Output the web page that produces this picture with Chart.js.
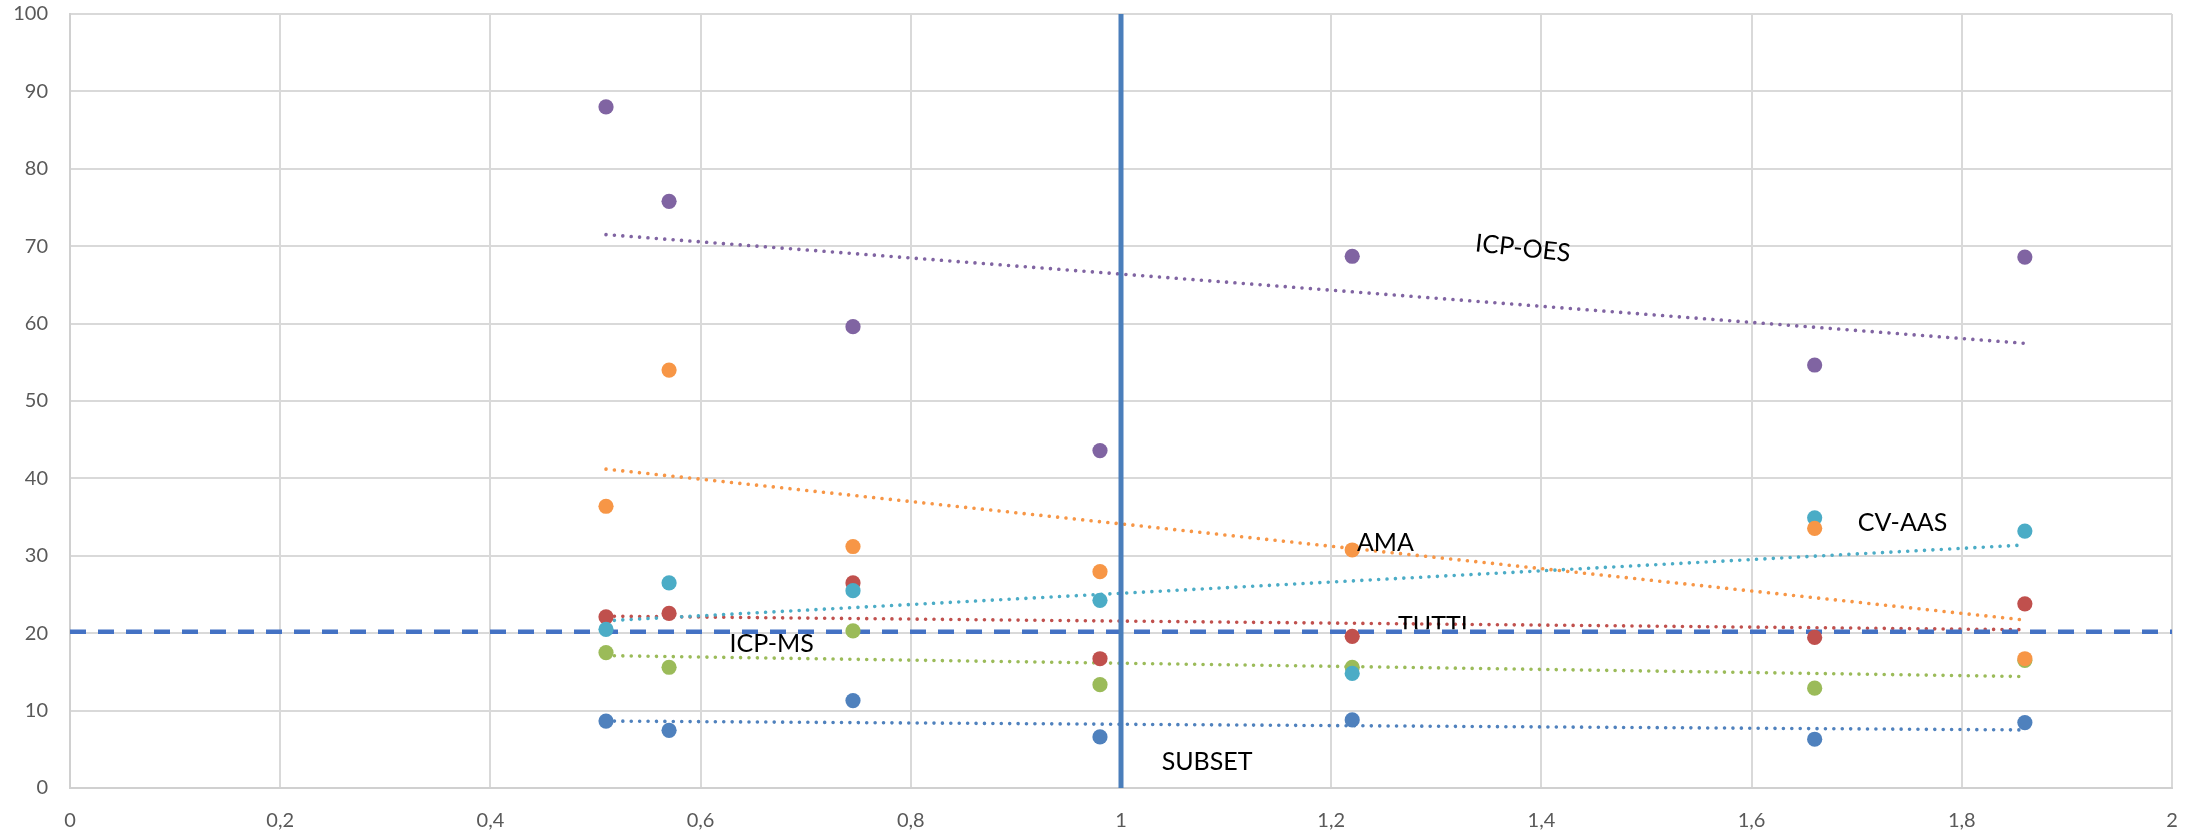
<!DOCTYPE html>
<html>
<head>
<meta charset="utf-8">
<script src="https://cdn.jsdelivr.net/npm/chart.js@4.4.0/dist/chart.umd.min.js"></script>
<style>
  html, body { margin: 0; padding: 0; background: #ffffff; }
  #wrap { width: 2203px; height: 834px; }
</style>
</head>
<body>
<div id="wrap"><canvas id="c" width="2203" height="834"></canvas></div>
<script>
// ---- data ----
const xValues = [0.51, 0.57, 0.745, 0.98, 1.22, 1.66, 1.86];
const icpOes  = [88.0, 75.8, 59.6, 43.6, 68.7, 54.65, 68.6];
const ama     = [36.4, 54.0, 31.2, 27.95, 30.75, 33.55, 16.7];
const cvAas   = [20.5, 26.5, 25.5, 24.25, 14.8, 34.9, 33.2];
const tutti   = [22.1, 22.55, 26.5, 16.7, 19.6, 19.45, 23.8];
const icpMs   = [17.5, 15.6, 20.3, 13.35, 15.6, 12.9, 16.5];
const subset  = [8.65, 7.45, 11.3, 6.6, 8.8, 6.3, 8.45];

// trendline end points
const trendX        = [0.51, 1.86];
const icpOesTrend   = [71.5, 57.45];
const amaTrend      = [41.2, 21.7];
const cvAasTrend    = [21.6, 31.4];
const tuttiTrend    = [22.2, 20.45];
const icpMsTrend    = [17.1, 14.4];
const subsetTrend   = [8.65, 7.5];

// reference lines
const refVX = [1, 1];
const refVY = [0, 100];
const refHX = [0, 2];
const refHY = [20.2, 20.2];

const xTickValues = [0, 0.2, 0.4, 0.6, 0.8, 1, 1.2, 1.4, 1.6, 1.8, 2];
const xTickLabels = ['0', '0,2', '0,4', '0,6', '0,8', '1', '1,2', '1,4', '1,6', '1,8', '2'];
const yTickValues = [0, 10, 20, 30, 40, 50, 60, 70, 80, 90, 100];
const yTickLabels = ['0', '10', '20', '30', '40', '50', '60', '70', '80', '90', '100'];

const seriesLabels = ['ICP-OES', 'AMA', 'CV-AAS', 'TUTTI', 'ICP-MS', 'SUBSET'];

// ---- styling ----
const C = {
  purple: '#8064A2', orange: '#F79646', cyan: '#4BACC6',
  red: '#C0504D', green: '#9BBB59', blue: '#4F81BD'
};

function pts(xs, ys) { return xs.map((x, i) => ({ x: x, y: ys[i] })); }

function scatterSet(label, ys, color, order) {
  return {
    label: label, data: pts(xValues, ys), showLine: false,
    backgroundColor: color, borderColor: color, borderWidth: 0,
    pointRadius: 7.6, pointHoverRadius: 7.6, order: order
  };
}
function trendSet(label, ys, color) {
  return {
    label: label + ' trend', data: pts(trendX, ys), showLine: true,
    borderColor: color, backgroundColor: color, borderWidth: 3.6,
    borderDash: [0.01, 8.4], borderCapStyle: 'round',
    pointRadius: 0, pointHoverRadius: 0, order: 20
  };
}

const datasets = [
  trendSet(seriesLabels[0], icpOesTrend, C.purple),
  trendSet(seriesLabels[1], amaTrend, C.orange),
  trendSet(seriesLabels[2], cvAasTrend, C.cyan),
  trendSet(seriesLabels[3], tuttiTrend, C.red),
  trendSet(seriesLabels[4], icpMsTrend, C.green),
  trendSet(seriesLabels[5], subsetTrend, C.blue),
  {
    label: 'vline', data: pts(refVX, refVY), showLine: true,
    borderColor: '#4A7EBB', borderWidth: 5, pointRadius: 0, order: 15
  },
  {
    label: 'hline', data: pts(refHX, refHY), showLine: true,
    borderColor: '#4472C4', borderWidth: 4.5, borderDash: [16, 12],
    borderCapStyle: 'butt', pointRadius: 0, order: 16
  },
  scatterSet(seriesLabels[5], subset, C.blue, 9),
  scatterSet(seriesLabels[3], tutti, C.red, 8),
  scatterSet(seriesLabels[4], icpMs, C.green, 7),
  scatterSet(seriesLabels[2], cvAas, C.cyan, 6),
  scatterSet(seriesLabels[1], ama, C.orange, 5),
  scatterSet(seriesLabels[0], icpOes, C.purple, 4)
];

// text annotations (data coordinates)
const annotations = [
  { text: seriesLabels[1], x: 1.2245, y: 30.62 },
  { text: seriesLabels[3], x: 1.2636, y: 19.93, clipAbove: 20.2 },
  { text: seriesLabels[4], x: 0.6276, y: 17.53 },
  { text: seriesLabels[5], x: 1.0387, y: 2.33 },
  { text: seriesLabels[2], x: 1.701, y: 33.24 },
  { text: seriesLabels[0], x: 1.3825, y: 69.83, rotate: 6.2, center: true }
];

const textPlugin = {
  id: 'texts',
  afterDatasetsDraw(chart) {
    const ctx = chart.ctx;
    const xs = chart.scales.x, ys = chart.scales.y;
    const fs = 25;
    annotations.forEach(a => {
      const px = xs.getPixelForValue(a.x);
      const py = ys.getPixelForValue(a.y);
      ctx.save();
      ctx.font = fs + 'px Lato';
      ctx.fillStyle = '#000000';
      ctx.textBaseline = 'alphabetic';
      if (a.clipAbove !== undefined) {
        const cy = ys.getPixelForValue(a.clipAbove) - 2.5;
        ctx.beginPath();
        ctx.rect(0, 0, chart.width, cy);
        ctx.clip();
      }
      if (a.center) {
        ctx.translate(px, py);
        ctx.rotate(a.rotate * Math.PI / 180);
        ctx.textAlign = 'center';
        ctx.fillText(a.text, 0, fs * 0.36);
      } else {
        ctx.textAlign = 'left';
        ctx.fillText(a.text, px, py);
      }
      ctx.restore();
    });
  }
};

new Chart(document.getElementById('c'), {
  type: 'scatter',
  data: { datasets: datasets },
  options: {
    responsive: false,
    animation: false,
    layout: { padding: { left: 0, right: 31, top: 14, bottom: 0 } },
    plugins: { legend: { display: false }, tooltip: { enabled: false } },
    scales: {
      x: {
        type: 'linear', min: 0, max: 2,
        afterBuildTicks(s) { s.ticks = xTickValues.map(v => ({ value: v })); },
        afterFit(s) { s.height = 46; s.paddingLeft = 0; s.paddingRight = 0; },
        ticks: {
          padding: 21, color: '#595959',
          font: { family: 'Lato', size: 20 },
          maxRotation: 0, autoSkip: false,
          callback(v) { const i = xTickValues.indexOf(v); return i >= 0 ? xTickLabels[i] : ''; }
        },
        grid: { color: '#D9D9D9', lineWidth: 2, drawTicks: false },
        border: { color: '#D0D0D0', width: 2 }
      },
      y: {
        type: 'linear', min: 0, max: 100,
        afterBuildTicks(s) { s.ticks = yTickValues.map(v => ({ value: v })); },
        afterFit(s) { s.width = 70; s.paddingTop = 0; s.paddingBottom = 0; },
        ticks: {
          padding: 22, color: '#595959',
          font: { family: 'Lato', size: 20 },
          callback(v) { const i = yTickValues.indexOf(v); return i >= 0 ? yTickLabels[i] : ''; }
        },
        grid: { color: '#D9D9D9', lineWidth: 2, drawTicks: false },
        border: { color: '#D0D0D0', width: 2 }
      }
    }
  },
  plugins: [textPlugin]
});
</script>
</body>
</html>
